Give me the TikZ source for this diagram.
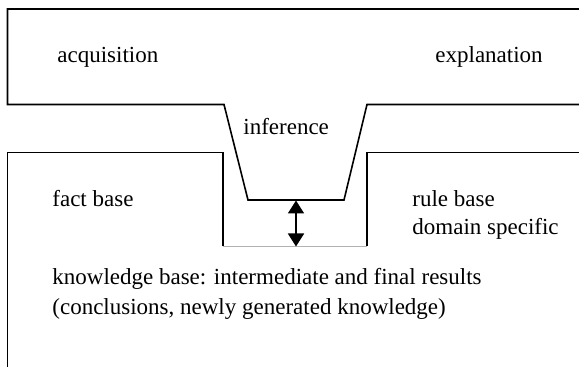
\documentclass[tikz,border=0pt]{standalone}
\usepackage{fontspec}
\setmainfont{Liberation Serif}
\usetikzlibrary{arrows.meta}
\begin{document}
\begin{tikzpicture}[x=0.5pt,y=-0.5pt,
  outline/.style={line width=0.8pt,line join=miter},
  lbl/.style={anchor=base west,inner sep=0pt,font=\fontsize{11.5}{14}\selectfont,align=left},
  flow/.style={line width=0.9pt,{Triangle[width=8pt,length=6.5pt]}-{Triangle[width=8pt,length=6.5pt]}}]
\useasboundingbox (0,0) rectangle (579,367);
% top shell with funnel
\draw[outline] (579,9) -- (7.5,9) -- (7.5,104.5) -- (224,104.5) -- (248,200)
  -- (344,200) -- (367,104.5) -- (579,104.5);
% lower left
\draw[outline] (7.5,367) -- (7.5,152.5) -- (223,152.5) -- (223,246.5);
% lower right
\draw[outline] (579,152.5) -- (367,152.5) -- (367,246.5);
\draw[gray!60,line width=0.5pt] (223,246.5) -- (367,246.5);
\coordinate (ftop) at (296,200.5);
\coordinate (fbot) at (296,246.5);
\draw[flow] (ftop) -- (fbot);
\node[lbl] (acq) at (57,63) {acquisition};
\node[lbl] (expl) at (435,63) {explanation};
\node[lbl] (inf) at (243,135) {inference};
\node[lbl] (fact) at (52,207) {fact base};
\node[lbl] (rule) at (412,207) {rule base};
\node[lbl] (dom) at (412,235) {domain specific};
\node[lbl] (kb1) at (52,285) {knowledge base: intermediate and final results};
\node[lbl] (kb2) at (52,315) {(conclusions, newly generated knowledge)};
\end{tikzpicture}
\end{document}
